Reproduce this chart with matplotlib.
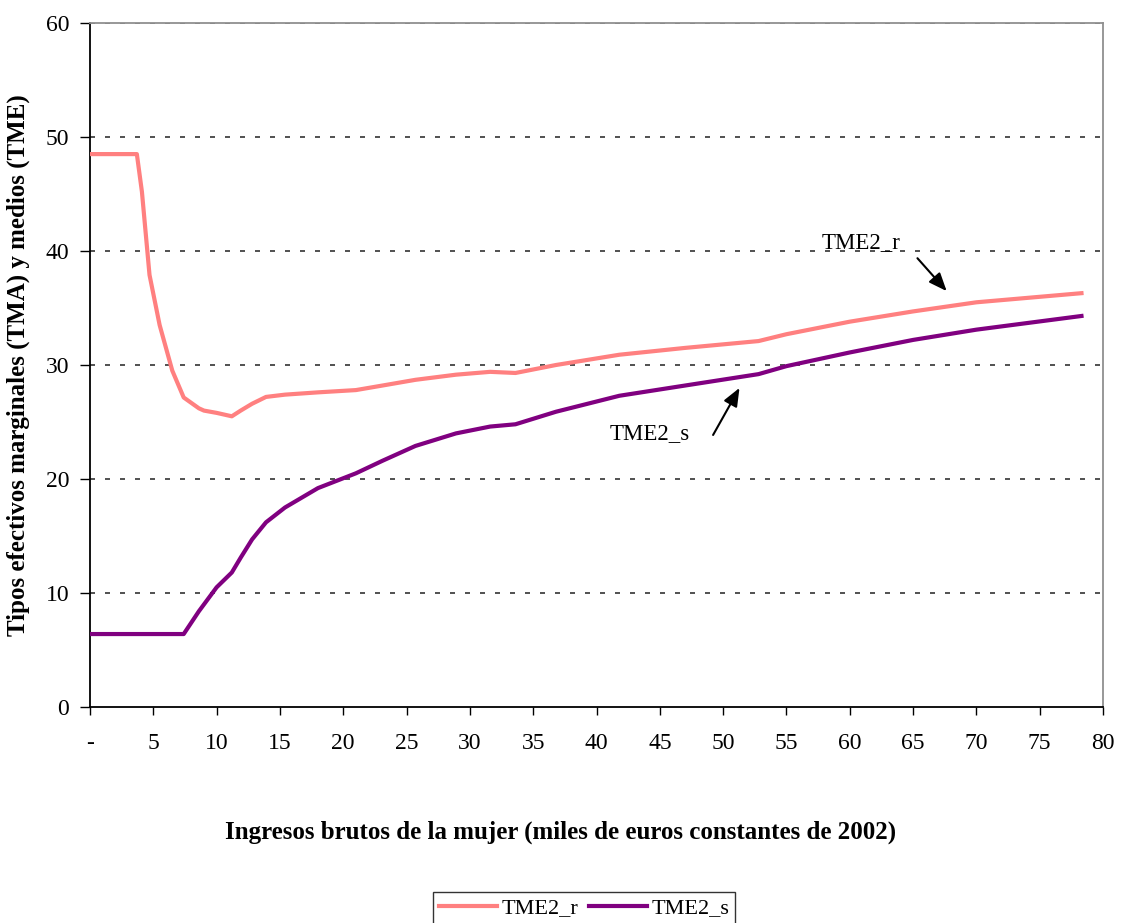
import matplotlib
matplotlib.use("Agg")
import matplotlib.pyplot as plt

# ── datos ─────────────────────────────────────────────────
ingresos = [0, 3.7, 4.1, 4.7, 5.5, 6.5, 7.4, 8.6, 9.0, 10.0, 11.2, 11.9, 12.8,
            13.9, 15.4, 18.0, 21.0, 23.1, 25.7, 28.9, 31.6, 33.6, 36.8, 41.8,
            47.0, 52.8, 55.0, 60.0, 65.0, 70.0, 78.3]
tme2_r = [48.5, 48.5, 45.2, 37.9, 33.5, 29.5, 27.15, 26.2, 26.0, 25.8, 25.5,
          26.0, 26.6, 27.2, 27.4, 27.6, 27.8, 28.2, 28.7, 29.15, 29.4, 29.3,
          30.0, 30.9, 31.5, 32.1, 32.7, 33.8, 34.7, 35.5, 36.3]
tme2_s = [6.4, 6.4, 6.4, 6.4, 6.4, 6.4, 6.4, 8.4, 9.0, 10.5, 11.8, 13.1, 14.7,
          16.2, 17.5, 19.2, 20.5, 21.6, 22.9, 24.0, 24.6, 24.8, 25.9, 27.3,
          28.2, 29.2, 29.9, 31.1, 32.2, 33.1, 34.3]

xticks = list(range(0, 85, 5))
xticklabels = ["-"] + [str(v) for v in xticks[1:]]
yticks = list(range(0, 70, 10))

plt.rcParams["font.family"] = ["Liberation Serif", "DejaVu Serif"]

fig = plt.figure(figsize=(11.23, 9.23), dpi=100)
ax = fig.add_axes([90 / 1123, 1 - 707 / 923, 1013 / 1123, 684 / 923])

ax.plot(ingresos, tme2_r, color="#FF8080", linewidth=3, label="TME2_r",
        solid_joinstyle="round", zorder=3)
ax.plot(ingresos, tme2_s, color="#800080", linewidth=3, label="TME2_s",
        solid_joinstyle="round", zorder=3)

ax.set_xlim(0, 80)
ax.set_ylim(0, 60)
ax.set_xticks(xticks)
ax.set_xticklabels(xticklabels)
ax.set_yticks(yticks)

# rejilla punteada
for yv in yticks[1:]:
    ax.axhline(yv, color="#333333", linewidth=1.2, linestyle=(0, (3, 6)), zorder=1)

for side in ["left", "bottom"]:
    ax.spines[side].set_color("black")
    ax.spines[side].set_linewidth(1.3)
for side in ["top", "right"]:
    ax.spines[side].set_color("#909090")
    ax.spines[side].set_linewidth(1.3)

ax.tick_params(axis="x", direction="out", length=6, width=1, pad=13, labelsize=17)
ax.tick_params(axis="y", direction="out", length=7, width=1, pad=8, labelsize=17)

ax.set_xlabel("Ingresos brutos de la mujer (miles de euros constantes de 2002)",
              fontsize=18, fontweight="bold")
ax.xaxis.set_label_coords(0.465, -0.166)
ax.set_ylabel("Tipos efectivos marginales (TMA) y medios (TME)",
              fontsize=18, fontweight="bold")
ax.yaxis.set_label_coords(-0.059, 0.5)

# etiquetas con flecha
flecha = dict(arrowstyle="-|>,head_length=1.1,head_width=0.45",
              color="black", lw=1.5)
ax.text(60.9, 40.7, "TME2_r", fontsize=16.5, ha="center", va="center")
ax.annotate("", xy=(67.8, 36.3), xytext=(65.2, 39.55), arrowprops=flecha)
ax.text(44.2, 24.0, "TME2_s", fontsize=16.5, ha="center", va="center")
ax.annotate("", xy=(51.4, 28.2), xytext=(49.1, 23.65), arrowprops=flecha)

leg = fig.legend(loc="center", bbox_to_anchor=(584 / 1123, 1 - 908 / 923),
                 ncol=2, fontsize=16, frameon=True, fancybox=False,
                 handlelength=2.6, handletextpad=0.2, columnspacing=0.5,
                 borderpad=0.25, borderaxespad=0)
leg.get_frame().set_edgecolor("black")
leg.get_frame().set_linewidth(1)

fig.savefig("out.png", dpi=100)
